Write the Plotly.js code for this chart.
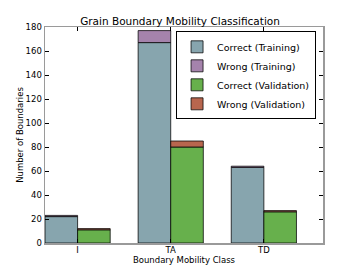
<!DOCTYPE html>
<html><head><meta charset="utf-8">
<script src="https://cdn.plot.ly/plotly-3.0.1.min.js"></script>
<style>html,body{margin:0;padding:0;background:#fff}#c{width:360px;height:270px}</style>
</head><body><div id="c"></div>
<script>
const categories = ["I", "TA", "TD"];
const correctTraining = [22, 167, 63];
const wrongTraining = [1, 10, 1];
const correctValidation = [11, 80, 26];
const wrongValidation = [1, 5, 1];

const idx = categories.map((_, i) => i);
const W = 0.35;
const edge = {color: "rgba(0,0,0,0.75)", width: 1};
function bar(name, y, base, color, offset) {
  return {type: "bar", name: name, x: idx, y: y, base: base, width: W, offset: offset,
    marker: {color: color, line: edge}, hoverinfo: "y"};
}
const zeros = idx.map(() => 0);
const traces = [
  bar("Correct (Training)", correctTraining, zeros, "#87a5ae", -W),
  bar("Wrong (Training)", wrongTraining, correctTraining, "#a583ac", -W),
  bar("Correct (Validation)", correctValidation, zeros, "#67b04c", 0),
  bar("Wrong (Validation)", wrongValidation, correctValidation, "#b8664e", 0)
];
const F = "DejaVu Sans, sans-serif";
const layout = {
  width: 360, height: 270,
  margin: {l: 45, r: 37, t: 27, b: 27},
  barmode: "overlay",
  paper_bgcolor: "#fff", plot_bgcolor: "#fff",
  font: {family: F, size: 9, color: "#000"},
  showlegend: true,
  title: {text: "Grain Boundary Mobility Classification", font: {family: F, size: 10.5, color: "#000"}, x: 0.5, xanchor: "center", y: 0.922, yanchor: "middle"},
  xaxis: {range: [-W, 2.635], tickvals: idx, ticktext: categories, ticks: "inside", ticklen: 4, tickcolor: "#000",
    showgrid: false, zeroline: false, showline: true, linecolor: "#9a9a9a", linewidth: 1.5, mirror: "ticks",
    ticklabelstandoff: -2,
    tickfont: {family: F, size: 8.5, color: "#000"},
    title: {text: "Boundary Mobility Class", font: {family: F, size: 8.5, color: "#000"}, standoff: 0}},
  yaxis: {range: [0, 180], dtick: 20, ticks: "inside", ticklen: 4, tickcolor: "#000",
    showgrid: false, zeroline: false, showline: true, linecolor: "#9a9a9a", linewidth: 1.5, mirror: "ticks",
    tickfont: {family: F, size: 8.5, color: "#000"},
    title: {text: "Number of Boundaries", font: {family: F, size: 8.5, color: "#000"}, standoff: 0}},
  legend: {x: 0.975, y: 0.98, xanchor: "right", yanchor: "top", bgcolor: "#fff", bordercolor: "#000", borderwidth: 1,
    font: {family: F, size: 9.5, color: "#000"}, tracegroupgap: 0, itemwidth: 30}
};
Plotly.newPlot("c", traces, layout, {staticPlot: true});
</script></body></html>
